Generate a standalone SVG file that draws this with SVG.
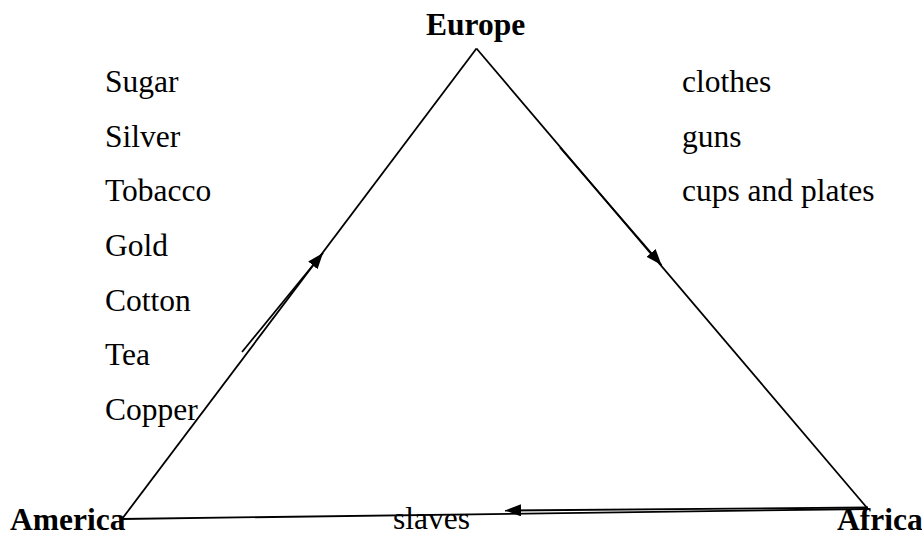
<svg xmlns="http://www.w3.org/2000/svg" width="922" height="533" viewBox="0 0 922 533">
  <style>
    text { font-family: "Liberation Serif", "Times New Roman", serif; font-size: 31.5px; fill: #000; }
    .place { font-weight: bold; }
    .side { stroke: #000; stroke-width: 1.8; fill: none; }
    .arrow { stroke: #000; stroke-width: 1.8; fill: none; marker-end: url(#head); }
  </style>
  <defs>
    <marker id="head" markerUnits="userSpaceOnUse" markerWidth="17" markerHeight="13" refX="16" refY="6" orient="auto">
      <path d="M0,0 L16,6 L0,12 z" fill="#000"/>
    </marker>
  </defs>
  <rect width="922" height="533" fill="#fff"/>
  <g id="connectors">
    <line class="side" x1="122" y1="519" x2="476.5" y2="48.5"/>
    <line class="side" x1="476.5" y1="48.5" x2="868" y2="509"/>
    <line class="side" x1="868" y1="509" x2="122" y2="519"/>
    <line class="arrow" x1="242" y1="352" x2="323" y2="253"/>
    <line class="arrow" x1="560" y1="147.5" x2="661.5" y2="265"/>
    <line class="arrow" x1="868" y1="507.5" x2="505" y2="510.5"/>
  </g>
  <g id="europe"><text class="place" x="426" y="35">Europe</text></g>
  <g id="america"><text class="place" x="10" y="530">America</text></g>
  <g id="africa"><text class="place" x="837" y="530">Africa</text></g>
  <g id="goods-to-europe">
    <text x="105" y="92">Sugar</text>
    <text x="105" y="146.7">Silver</text>
    <text x="105" y="201.4">Tobacco</text>
    <text x="105" y="256">Gold</text>
    <text x="105" y="310.7">Cotton</text>
    <text x="105" y="365.4">Tea</text>
    <text x="105" y="420">Copper</text>
  </g>
  <g id="goods-to-africa">
    <text x="682" y="92">clothes</text>
    <text x="682" y="146.7">guns</text>
    <text x="682" y="201.4">cups and plates</text>
  </g>
  <g id="goods-to-america">
    <text x="393" y="529">slaves</text>
  </g>
</svg>
